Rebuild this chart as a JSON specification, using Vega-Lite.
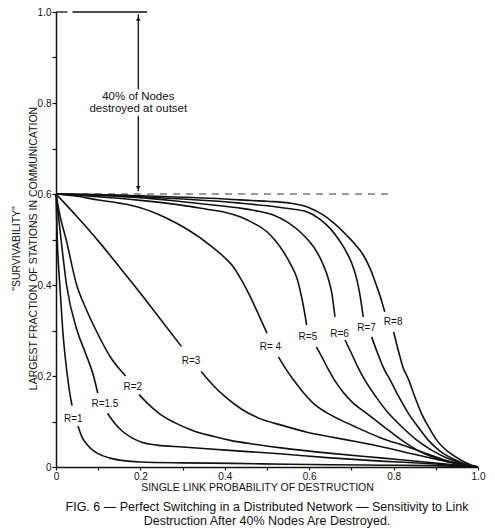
{
  "$schema": "https://vega.github.io/schema/vega-lite/v6.json",
  "autosize": {"type": "none"},
  "width": 422,
  "height": 455,
  "padding": {"left": 56, "top": 12, "right": 17, "bottom": 65},
  "background": "white",
  "config": {
    "view": {"stroke": null},
    "font": "Liberation Sans",
    "axis": {
      "grid": false,
      "domainColor": "#111",
      "domainWidth": 1.5,
      "tickColor": "#111",
      "tickWidth": 1.2,
      "labelColor": "#111",
      "labelFont": "Liberation Sans",
      "labelFontSize": 10,
      "titleColor": "#111",
      "titleFont": "Liberation Sans",
      "titleFontSize": 10.5,
      "titleFontWeight": "normal"
    }
  },
  "title": {
    "text": [
      "FIG. 6 — Perfect Switching in a Distributed Network — Sensitivity to Link",
      "Destruction After 40% Nodes Are Destroyed."
    ],
    "orient": "bottom",
    "anchor": "middle",
    "font": "Liberation Sans",
    "fontSize": 12.5,
    "fontWeight": "normal",
    "color": "#111",
    "lineHeight": 14,
    "offset": 8
  },
  "datasets": {
    "curves": [
      {"r": "R=1", "seg": 1, "x": 0, "y": 0.6},
      {"r": "R=1", "seg": 1, "x": 0.003, "y": 0.5},
      {"r": "R=1", "seg": 1, "x": 0.009, "y": 0.4},
      {"r": "R=1", "seg": 1, "x": 0.016, "y": 0.3},
      {"r": "R=1", "seg": 1, "x": 0.027, "y": 0.2},
      {"r": "R=1", "seg": 1, "x": 0.033, "y": 0.16},
      {"r": "R=1", "seg": 1, "x": 0.038, "y": 0.135},
      {"r": "R=1", "seg": 2, "x": 0.052, "y": 0.09},
      {"r": "R=1", "seg": 2, "x": 0.062, "y": 0.065},
      {"r": "R=1", "seg": 2, "x": 0.075, "y": 0.048},
      {"r": "R=1", "seg": 2, "x": 0.09, "y": 0.035},
      {"r": "R=1", "seg": 2, "x": 0.11, "y": 0.025},
      {"r": "R=1", "seg": 2, "x": 0.13, "y": 0.019},
      {"r": "R=1", "seg": 2, "x": 0.16, "y": 0.014},
      {"r": "R=1", "seg": 2, "x": 0.2, "y": 0.011},
      {"r": "R=1", "seg": 2, "x": 0.3, "y": 0.009},
      {"r": "R=1", "seg": 2, "x": 0.42, "y": 0.008},
      {"r": "R=1", "seg": 2, "x": 0.55, "y": 0.006},
      {"r": "R=1", "seg": 2, "x": 0.65, "y": 0.005},
      {"r": "R=1", "seg": 2, "x": 0.77, "y": 0.004},
      {"r": "R=1", "seg": 2, "x": 0.89, "y": 0.003},
      {"r": "R=1", "seg": 2, "x": 1, "y": 0},

      {"r": "R=1.5", "seg": 1, "x": 0, "y": 0.6},
      {"r": "R=1.5", "seg": 1, "x": 0.006, "y": 0.55},
      {"r": "R=1.5", "seg": 1, "x": 0.012, "y": 0.5},
      {"r": "R=1.5", "seg": 1, "x": 0.025, "y": 0.4},
      {"r": "R=1.5", "seg": 1, "x": 0.05, "y": 0.3},
      {"r": "R=1.5", "seg": 1, "x": 0.07, "y": 0.25},
      {"r": "R=1.5", "seg": 1, "x": 0.089, "y": 0.2},
      {"r": "R=1.5", "seg": 1, "x": 0.099, "y": 0.162},
      {"r": "R=1.5", "seg": 2, "x": 0.122, "y": 0.118},
      {"r": "R=1.5", "seg": 2, "x": 0.14, "y": 0.095},
      {"r": "R=1.5", "seg": 2, "x": 0.158, "y": 0.078},
      {"r": "R=1.5", "seg": 2, "x": 0.18, "y": 0.064},
      {"r": "R=1.5", "seg": 2, "x": 0.205, "y": 0.054},
      {"r": "R=1.5", "seg": 2, "x": 0.24, "y": 0.048},
      {"r": "R=1.5", "seg": 2, "x": 0.3, "y": 0.044},
      {"r": "R=1.5", "seg": 2, "x": 0.42, "y": 0.036},
      {"r": "R=1.5", "seg": 2, "x": 0.53, "y": 0.029},
      {"r": "R=1.5", "seg": 2, "x": 0.65, "y": 0.02},
      {"r": "R=1.5", "seg": 2, "x": 0.77, "y": 0.013},
      {"r": "R=1.5", "seg": 2, "x": 0.89, "y": 0.007},
      {"r": "R=1.5", "seg": 2, "x": 1, "y": 0},

      {"r": "R=2", "seg": 1, "x": 0, "y": 0.6},
      {"r": "R=2", "seg": 1, "x": 0.01, "y": 0.55},
      {"r": "R=2", "seg": 1, "x": 0.024, "y": 0.5},
      {"r": "R=2", "seg": 1, "x": 0.049, "y": 0.4},
      {"r": "R=2", "seg": 1, "x": 0.07, "y": 0.35},
      {"r": "R=2", "seg": 1, "x": 0.095, "y": 0.3},
      {"r": "R=2", "seg": 1, "x": 0.13, "y": 0.24},
      {"r": "R=2", "seg": 1, "x": 0.165, "y": 0.2},
      {"r": "R=2", "seg": 2, "x": 0.197, "y": 0.159},
      {"r": "R=2", "seg": 2, "x": 0.22, "y": 0.137},
      {"r": "R=2", "seg": 2, "x": 0.244, "y": 0.118},
      {"r": "R=2", "seg": 2, "x": 0.28, "y": 0.098},
      {"r": "R=2", "seg": 2, "x": 0.322, "y": 0.081},
      {"r": "R=2", "seg": 2, "x": 0.37, "y": 0.068},
      {"r": "R=2", "seg": 2, "x": 0.416, "y": 0.058},
      {"r": "R=2", "seg": 2, "x": 0.47, "y": 0.05},
      {"r": "R=2", "seg": 2, "x": 0.534, "y": 0.042},
      {"r": "R=2", "seg": 2, "x": 0.652, "y": 0.03},
      {"r": "R=2", "seg": 2, "x": 0.769, "y": 0.02},
      {"r": "R=2", "seg": 2, "x": 0.887, "y": 0.01},
      {"r": "R=2", "seg": 2, "x": 1, "y": 0},

      {"r": "R=3", "seg": 1, "x": 0, "y": 0.6},
      {"r": "R=3", "seg": 1, "x": 0.05, "y": 0.55},
      {"r": "R=3", "seg": 1, "x": 0.1, "y": 0.497},
      {"r": "R=3", "seg": 1, "x": 0.15, "y": 0.44},
      {"r": "R=3", "seg": 1, "x": 0.2, "y": 0.382},
      {"r": "R=3", "seg": 1, "x": 0.25, "y": 0.322},
      {"r": "R=3", "seg": 1, "x": 0.297, "y": 0.265},
      {"r": "R=3", "seg": 2, "x": 0.344, "y": 0.21},
      {"r": "R=3", "seg": 2, "x": 0.37, "y": 0.182},
      {"r": "R=3", "seg": 2, "x": 0.4, "y": 0.155},
      {"r": "R=3", "seg": 2, "x": 0.44, "y": 0.127},
      {"r": "R=3", "seg": 2, "x": 0.479, "y": 0.108},
      {"r": "R=3", "seg": 2, "x": 0.534, "y": 0.092},
      {"r": "R=3", "seg": 2, "x": 0.597, "y": 0.076},
      {"r": "R=3", "seg": 2, "x": 0.652, "y": 0.066},
      {"r": "R=3", "seg": 2, "x": 0.71, "y": 0.056},
      {"r": "R=3", "seg": 2, "x": 0.769, "y": 0.045},
      {"r": "R=3", "seg": 2, "x": 0.83, "y": 0.032},
      {"r": "R=3", "seg": 2, "x": 0.887, "y": 0.02},
      {"r": "R=3", "seg": 2, "x": 0.95, "y": 0.008},
      {"r": "R=3", "seg": 2, "x": 1, "y": 0},

      {"r": "R=4", "seg": 1, "x": 0, "y": 0.6},
      {"r": "R=4", "seg": 1, "x": 0.05, "y": 0.595},
      {"r": "R=4", "seg": 1, "x": 0.1, "y": 0.587},
      {"r": "R=4", "seg": 1, "x": 0.15, "y": 0.58},
      {"r": "R=4", "seg": 1, "x": 0.2, "y": 0.57},
      {"r": "R=4", "seg": 1, "x": 0.26, "y": 0.548},
      {"r": "R=4", "seg": 1, "x": 0.31, "y": 0.523},
      {"r": "R=4", "seg": 1, "x": 0.37, "y": 0.484},
      {"r": "R=4", "seg": 1, "x": 0.4, "y": 0.46},
      {"r": "R=4", "seg": 1, "x": 0.42, "y": 0.44},
      {"r": "R=4", "seg": 1, "x": 0.44, "y": 0.41},
      {"r": "R=4", "seg": 1, "x": 0.46, "y": 0.375},
      {"r": "R=4", "seg": 1, "x": 0.48, "y": 0.335},
      {"r": "R=4", "seg": 1, "x": 0.5, "y": 0.294},
      {"r": "R=4", "seg": 2, "x": 0.527, "y": 0.242},
      {"r": "R=4", "seg": 2, "x": 0.545, "y": 0.215},
      {"r": "R=4", "seg": 2, "x": 0.563, "y": 0.191},
      {"r": "R=4", "seg": 2, "x": 0.585, "y": 0.165},
      {"r": "R=4", "seg": 2, "x": 0.61, "y": 0.14},
      {"r": "R=4", "seg": 2, "x": 0.64, "y": 0.12},
      {"r": "R=4", "seg": 2, "x": 0.675, "y": 0.103},
      {"r": "R=4", "seg": 2, "x": 0.71, "y": 0.088},
      {"r": "R=4", "seg": 2, "x": 0.77, "y": 0.064},
      {"r": "R=4", "seg": 2, "x": 0.831, "y": 0.045},
      {"r": "R=4", "seg": 2, "x": 0.87, "y": 0.032},
      {"r": "R=4", "seg": 2, "x": 0.91, "y": 0.019},
      {"r": "R=4", "seg": 2, "x": 0.95, "y": 0.008},
      {"r": "R=4", "seg": 2, "x": 1, "y": 0},

      {"r": "R=5", "seg": 1, "x": 0, "y": 0.6},
      {"r": "R=5", "seg": 1, "x": 0.1, "y": 0.594},
      {"r": "R=5", "seg": 1, "x": 0.2, "y": 0.586},
      {"r": "R=5", "seg": 1, "x": 0.3, "y": 0.575},
      {"r": "R=5", "seg": 1, "x": 0.36, "y": 0.566},
      {"r": "R=5", "seg": 1, "x": 0.4, "y": 0.56},
      {"r": "R=5", "seg": 1, "x": 0.436, "y": 0.55},
      {"r": "R=5", "seg": 1, "x": 0.47, "y": 0.535},
      {"r": "R=5", "seg": 1, "x": 0.5, "y": 0.517},
      {"r": "R=5", "seg": 1, "x": 0.52, "y": 0.497},
      {"r": "R=5", "seg": 1, "x": 0.539, "y": 0.473},
      {"r": "R=5", "seg": 1, "x": 0.555, "y": 0.447},
      {"r": "R=5", "seg": 1, "x": 0.571, "y": 0.415},
      {"r": "R=5", "seg": 1, "x": 0.585, "y": 0.36},
      {"r": "R=5", "seg": 1, "x": 0.594, "y": 0.312},
      {"r": "R=5", "seg": 2, "x": 0.617, "y": 0.264},
      {"r": "R=5", "seg": 2, "x": 0.63, "y": 0.242},
      {"r": "R=5", "seg": 2, "x": 0.645, "y": 0.215},
      {"r": "R=5", "seg": 2, "x": 0.66, "y": 0.191},
      {"r": "R=5", "seg": 2, "x": 0.68, "y": 0.165},
      {"r": "R=5", "seg": 2, "x": 0.705, "y": 0.14},
      {"r": "R=5", "seg": 2, "x": 0.736, "y": 0.118},
      {"r": "R=5", "seg": 2, "x": 0.775, "y": 0.09},
      {"r": "R=5", "seg": 2, "x": 0.819, "y": 0.059},
      {"r": "R=5", "seg": 2, "x": 0.86, "y": 0.035},
      {"r": "R=5", "seg": 2, "x": 0.9, "y": 0.02},
      {"r": "R=5", "seg": 2, "x": 0.95, "y": 0.007},
      {"r": "R=5", "seg": 2, "x": 1, "y": 0},

      {"r": "R=6", "seg": 1, "x": 0, "y": 0.6},
      {"r": "R=6", "seg": 1, "x": 0.1, "y": 0.597},
      {"r": "R=6", "seg": 1, "x": 0.2, "y": 0.592},
      {"r": "R=6", "seg": 1, "x": 0.3, "y": 0.583},
      {"r": "R=6", "seg": 1, "x": 0.4, "y": 0.573},
      {"r": "R=6", "seg": 1, "x": 0.436, "y": 0.569},
      {"r": "R=6", "seg": 1, "x": 0.48, "y": 0.562},
      {"r": "R=6", "seg": 1, "x": 0.515, "y": 0.554},
      {"r": "R=6", "seg": 1, "x": 0.55, "y": 0.537},
      {"r": "R=6", "seg": 1, "x": 0.578, "y": 0.517},
      {"r": "R=6", "seg": 1, "x": 0.6, "y": 0.496},
      {"r": "R=6", "seg": 1, "x": 0.618, "y": 0.473},
      {"r": "R=6", "seg": 1, "x": 0.633, "y": 0.445},
      {"r": "R=6", "seg": 1, "x": 0.645, "y": 0.415},
      {"r": "R=6", "seg": 1, "x": 0.654, "y": 0.38},
      {"r": "R=6", "seg": 1, "x": 0.661, "y": 0.33},
      {"r": "R=6", "seg": 2, "x": 0.685, "y": 0.279},
      {"r": "R=6", "seg": 2, "x": 0.7, "y": 0.25},
      {"r": "R=6", "seg": 2, "x": 0.715, "y": 0.22},
      {"r": "R=6", "seg": 2, "x": 0.732, "y": 0.191},
      {"r": "R=6", "seg": 2, "x": 0.76, "y": 0.152},
      {"r": "R=6", "seg": 2, "x": 0.788, "y": 0.118},
      {"r": "R=6", "seg": 2, "x": 0.82, "y": 0.088},
      {"r": "R=6", "seg": 2, "x": 0.855, "y": 0.059},
      {"r": "R=6", "seg": 2, "x": 0.89, "y": 0.037},
      {"r": "R=6", "seg": 2, "x": 0.93, "y": 0.018},
      {"r": "R=6", "seg": 2, "x": 0.97, "y": 0.006},
      {"r": "R=6", "seg": 2, "x": 1, "y": 0},

      {"r": "R=7", "seg": 1, "x": 0, "y": 0.6},
      {"r": "R=7", "seg": 1, "x": 0.1, "y": 0.598},
      {"r": "R=7", "seg": 1, "x": 0.2, "y": 0.594},
      {"r": "R=7", "seg": 1, "x": 0.3, "y": 0.589},
      {"r": "R=7", "seg": 1, "x": 0.4, "y": 0.583},
      {"r": "R=7", "seg": 1, "x": 0.436, "y": 0.58},
      {"r": "R=7", "seg": 1, "x": 0.5, "y": 0.574},
      {"r": "R=7", "seg": 1, "x": 0.55, "y": 0.568},
      {"r": "R=7", "seg": 1, "x": 0.594, "y": 0.561},
      {"r": "R=7", "seg": 1, "x": 0.625, "y": 0.545},
      {"r": "R=7", "seg": 1, "x": 0.649, "y": 0.525},
      {"r": "R=7", "seg": 1, "x": 0.67, "y": 0.5},
      {"r": "R=7", "seg": 1, "x": 0.688, "y": 0.473},
      {"r": "R=7", "seg": 1, "x": 0.702, "y": 0.445},
      {"r": "R=7", "seg": 1, "x": 0.712, "y": 0.415},
      {"r": "R=7", "seg": 1, "x": 0.72, "y": 0.38},
      {"r": "R=7", "seg": 1, "x": 0.728, "y": 0.33},
      {"r": "R=7", "seg": 2, "x": 0.748, "y": 0.286},
      {"r": "R=7", "seg": 2, "x": 0.76, "y": 0.255},
      {"r": "R=7", "seg": 2, "x": 0.775, "y": 0.22},
      {"r": "R=7", "seg": 2, "x": 0.792, "y": 0.191},
      {"r": "R=7", "seg": 2, "x": 0.812, "y": 0.155},
      {"r": "R=7", "seg": 2, "x": 0.835, "y": 0.118},
      {"r": "R=7", "seg": 2, "x": 0.858, "y": 0.088},
      {"r": "R=7", "seg": 2, "x": 0.882, "y": 0.059},
      {"r": "R=7", "seg": 2, "x": 0.91, "y": 0.035},
      {"r": "R=7", "seg": 2, "x": 0.945, "y": 0.016},
      {"r": "R=7", "seg": 2, "x": 0.975, "y": 0.005},
      {"r": "R=7", "seg": 2, "x": 1, "y": 0},

      {"r": "R=8", "seg": 1, "x": 0, "y": 0.6},
      {"r": "R=8", "seg": 1, "x": 0.1, "y": 0.599},
      {"r": "R=8", "seg": 1, "x": 0.2, "y": 0.596},
      {"r": "R=8", "seg": 1, "x": 0.3, "y": 0.593},
      {"r": "R=8", "seg": 1, "x": 0.4, "y": 0.589},
      {"r": "R=8", "seg": 1, "x": 0.436, "y": 0.587},
      {"r": "R=8", "seg": 1, "x": 0.5, "y": 0.584},
      {"r": "R=8", "seg": 1, "x": 0.554, "y": 0.58},
      {"r": "R=8", "seg": 1, "x": 0.6, "y": 0.57},
      {"r": "R=8", "seg": 1, "x": 0.633, "y": 0.554},
      {"r": "R=8", "seg": 1, "x": 0.66, "y": 0.535},
      {"r": "R=8", "seg": 1, "x": 0.688, "y": 0.51},
      {"r": "R=8", "seg": 1, "x": 0.71, "y": 0.488},
      {"r": "R=8", "seg": 1, "x": 0.728, "y": 0.466},
      {"r": "R=8", "seg": 1, "x": 0.745, "y": 0.435},
      {"r": "R=8", "seg": 1, "x": 0.759, "y": 0.4},
      {"r": "R=8", "seg": 1, "x": 0.77, "y": 0.37},
      {"r": "R=8", "seg": 1, "x": 0.779, "y": 0.341},
      {"r": "R=8", "seg": 2, "x": 0.8, "y": 0.297},
      {"r": "R=8", "seg": 2, "x": 0.81, "y": 0.26},
      {"r": "R=8", "seg": 2, "x": 0.822, "y": 0.22},
      {"r": "R=8", "seg": 2, "x": 0.836, "y": 0.191},
      {"r": "R=8", "seg": 2, "x": 0.85, "y": 0.155},
      {"r": "R=8", "seg": 2, "x": 0.866, "y": 0.118},
      {"r": "R=8", "seg": 2, "x": 0.883, "y": 0.088},
      {"r": "R=8", "seg": 2, "x": 0.902, "y": 0.059},
      {"r": "R=8", "seg": 2, "x": 0.93, "y": 0.033},
      {"r": "R=8", "seg": 2, "x": 0.96, "y": 0.015},
      {"r": "R=8", "seg": 2, "x": 0.985, "y": 0.004},
      {"r": "R=8", "seg": 2, "x": 1, "y": 0}
    ],
    "labels": [
      {"text": "R=1", "x": 0.041, "y": 0.106},
      {"text": "R=1.5", "x": 0.116, "y": 0.138},
      {"text": "R=2", "x": 0.182, "y": 0.176},
      {"text": "R=3", "x": 0.32, "y": 0.232},
      {"text": "R= 4", "x": 0.508, "y": 0.264},
      {"text": "R=5", "x": 0.597, "y": 0.286},
      {"text": "R=6", "x": 0.672, "y": 0.292},
      {"text": "R=7", "x": 0.736, "y": 0.306},
      {"text": "R=8", "x": 0.799, "y": 0.318}
    ],
    "solid": [
      {"x": 0, "x2": 0.027, "y": 1, "y2": 1},
      {"x": 0.039, "x2": 0.216, "y": 1, "y2": 1},
      {"x": 0.195, "x2": 0.195, "y": 0.995, "y2": 0.83},
      {"x": 0.195, "x2": 0.195, "y": 0.772, "y2": 0.606}
    ],
    "dashed": [
      {"x": 0, "x2": 0.8, "y": 0.6, "y2": 0.6}
    ],
    "heads": [
      {"x": 0.195, "y": 0.985, "end": "top"},
      {"x": 0.195, "y": 0.613, "end": "bottom"}
    ],
    "notes": [
      {"text": "40% of Nodes", "x": 0.195, "y": 0.813},
      {"text": "destroyed at outset", "x": 0.195, "y": 0.787}
    ]
  },
  "encoding": {
    "x": {
      "field": "x",
      "type": "quantitative",
      "scale": {"domain": [0, 1], "nice": false},
      "axis": {
        "title": "SINGLE LINK PROBABILITY OF DESTRUCTION",
        "values": [0, 0.1, 0.2, 0.3, 0.4, 0.5, 0.6, 0.7, 0.8, 0.9, 1],
        "labelExpr": "round(datum.value * 10) % 2 == 1 ? '' : (datum.value == 0 ? '0' : format(datum.value, '.1f'))",
        "labelPadding": 1,
        "labelFlush": false,
        "tickSize": 3,
        "titleX": 201,
        "titleY": 20,
        "titleBaseline": "middle",
        "encode": {
          "ticks": {
            "update": {
              "y2": {"signal": "round(datum.value * 10) % 2 == 1 ? -5 : (datum.value == 1 ? -7 : 3)"}
            }
          }
        }
      }
    },
    "y": {
      "field": "y",
      "type": "quantitative",
      "scale": {"domain": [0, 1], "nice": false},
      "axis": {
        "title": ["\"SURVIVABILITY\"", "LARGEST FRACTION OF STATIONS IN COMMUNICATION"],
        "values": [0, 0.1, 0.2, 0.3, 0.4, 0.5, 0.6, 0.7, 0.8, 0.9, 1],
        "labelExpr": "round(datum.value * 10) % 2 == 1 ? '' : (datum.value == 0 ? '0' : format(datum.value, '.1f'))",
        "labelPadding": 1,
        "labelFlush": false,
        "tickSize": 4,
        "titleX": -35,
        "titleY": 236,
        "titleAlign": "center",
        "titleBaseline": "bottom",
        "titleLineHeight": 17,
        "encode": {
          "ticks": {
            "update": {
              "x2": {"signal": "round(datum.value * 10) % 2 == 1 ? 6 : -4"}
            }
          }
        }
      }
    }
  },
  "layer": [
    {
      "data": {"name": "dashed"},
      "mark": {"type": "rule", "color": "#333", "strokeWidth": 1.2, "strokeDash": [7, 6]},
      "encoding": {"x2": {"field": "x2"}, "y2": {"field": "y2"}}
    },
    {
      "data": {"name": "solid"},
      "mark": {"type": "rule", "color": "#111", "strokeWidth": 1.3},
      "encoding": {"x2": {"field": "x2"}, "y2": {"field": "y2"}}
    },
    {
      "data": {"name": "heads"},
      "mark": {"type": "point", "filled": true, "color": "#111", "size": 22, "opacity": 1},
      "encoding": {
        "shape": {
          "field": "end",
          "type": "nominal",
          "scale": {"domain": ["top", "bottom"], "range": ["triangle-up", "triangle-down"]},
          "legend": null
        }
      }
    },
    {
      "data": {"name": "notes"},
      "mark": {"type": "text", "font": "Liberation Sans", "fontSize": 11.5, "color": "#111", "align": "center", "baseline": "middle"},
      "encoding": {"text": {"field": "text"}}
    },
    {
      "data": {"name": "curves"},
      "mark": {"type": "line", "color": "#111", "strokeWidth": 1.6, "interpolate": "monotone"},
      "encoding": {
        "detail": [{"field": "r"}, {"field": "seg"}]
      }
    },
    {
      "data": {"name": "labels"},
      "mark": {"type": "text", "font": "Liberation Sans", "fontSize": 10, "color": "#111", "align": "center", "baseline": "middle"},
      "encoding": {"text": {"field": "text"}}
    }
  ]
}
